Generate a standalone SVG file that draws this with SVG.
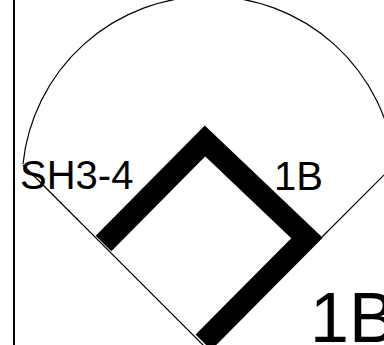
<svg xmlns="http://www.w3.org/2000/svg" width="384" height="345" viewBox="0 0 384 345">
<style>
.thin{fill:none;stroke:#000;stroke-width:1.2}
.lbl{font-family:"Liberation Sans",Arial,sans-serif;fill:#000}
</style>
<rect width="384" height="345" fill="#fff"/>
<g id="border">
<line x1="14" y1="0" x2="14" y2="345" stroke="#000" stroke-width="2"/>
</g>
<g id="connectors">
<path class="thin" d="M 23 164 A 187 187 0 0 1 395 164"/>
<line class="thin" x1="23" y1="165" x2="205" y2="347"/>
<line class="thin" x1="322" y1="237" x2="390" y2="169"/>
</g>
<g id="diamond">
<polyline points="103.5,243.5 205,141 307,238 203.4,342.3" fill="none" stroke="#000" stroke-width="22" stroke-linejoin="miter" stroke-linecap="butt"/>
</g>
<g id="label-sh">
<text class="lbl" x="20" y="189" font-size="40">SH3-4</text>
</g>
<g id="label-1b">
<text class="lbl" x="274" y="190" font-size="40">1B</text>
</g>
<g id="label-1b-big">
<text class="lbl" x="310" y="342" font-size="70">1B</text>
</g>
</svg>
